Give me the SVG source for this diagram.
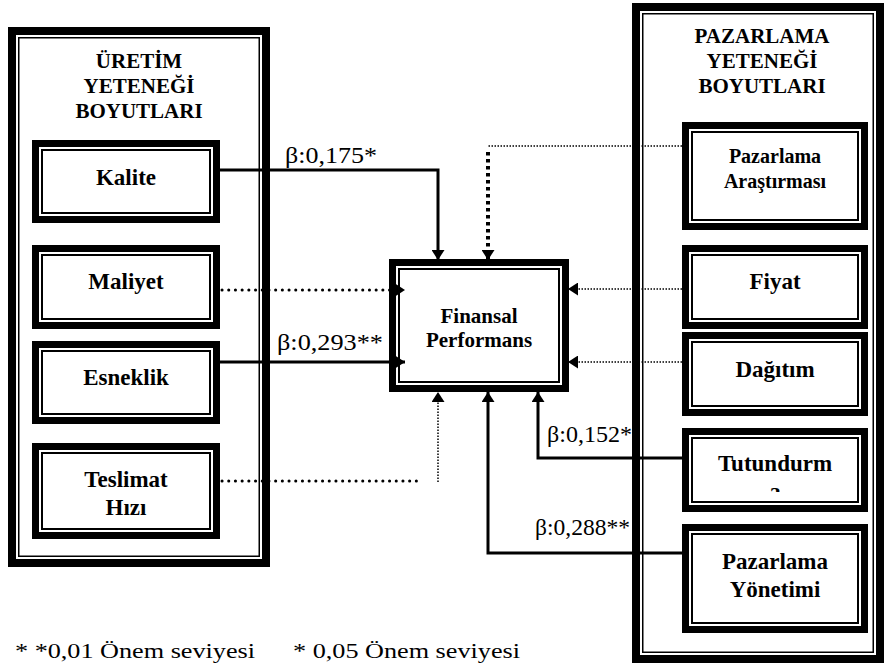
<svg xmlns="http://www.w3.org/2000/svg" width="884" height="664" viewBox="0 0 884 664">
<style>
.bg{fill:#fff}
.thickG{fill:#fff;stroke:#000;stroke-width:8}
.thick{fill:#fff;stroke:#000;stroke-width:7}
.thin{fill:none;stroke:#000;stroke-width:2}
.thinG{fill:none;stroke:#000;stroke-width:1.5}
.hd{font-family:"Liberation Serif","Times New Roman",serif;font-weight:bold;font-size:21px;text-anchor:middle;fill:#000}
.lb{font-family:"Liberation Serif","Times New Roman",serif;font-weight:bold;font-size:23px;text-anchor:middle;fill:#000}
.lbs{font-family:"Liberation Serif","Times New Roman",serif;font-weight:bold;font-size:20px;text-anchor:middle;fill:#000}
.beta{font-family:"Liberation Serif","Times New Roman",serif;font-size:23px;fill:#000}
.foot{font-family:"Liberation Serif","Times New Roman",serif;font-size:21px;fill:#000}
.solid{fill:none;stroke:#000;stroke-width:3}
.dotM{fill:none;stroke:#000;stroke-width:3;stroke-linecap:round;stroke-dasharray:0.1 6.6}
.dotT{fill:none;stroke:#000;stroke-width:1.5;stroke-dasharray:1.5 1.5}
.dotK{fill:none;stroke:#000;stroke-width:4;stroke-dasharray:3.5 3.5}
</style>
<defs>
<marker id="ah" markerUnits="userSpaceOnUse" markerWidth="10" markerHeight="13" refX="10" refY="6.5" orient="auto">
<path d="M0,0 L10,6.5 L0,13 Z" fill="#000"/>
</marker>
<clipPath id="clipT"><rect x="692" y="438" width="166" height="54"/></clipPath>
</defs>
<rect class="bg" x="0" y="0" width="884" height="664"/>

<g id="uretim-group">
<rect class="thickG" x="12" y="31" width="254" height="532"/>
<rect class="thinG" x="18.75" y="37.75" width="240.5" height="518.5"/>
<text class="hd" x="139" y="68">ÜRETİM</text>
<text class="hd" x="139" y="93">YETENEĞİ</text>
<text class="hd" x="139" y="118">BOYUTLARI</text>
</g>

<g id="pazarlama-group">
<rect class="thickG" x="636" y="7" width="244" height="652"/>
<rect class="thinG" x="642.75" y="13.75" width="230.5" height="638.5"/>
<text class="hd" x="762" y="43">PAZARLAMA</text>
<text class="hd" x="762" y="68">YETENEĞİ</text>
<text class="hd" x="762" y="93">BOYUTLARI</text>
</g>

<g id="kalite">
<rect class="thick" x="35.5" y="143.5" width="181" height="76"/>
<rect class="thin" x="42" y="150" width="168" height="63"/>
<text class="lb" x="126" y="185">Kalite</text>
</g>
<g id="maliyet">
<rect class="thick" x="35.5" y="248.5" width="181" height="77"/>
<rect class="thin" x="42" y="255" width="168" height="64"/>
<text class="lb" x="126" y="289">Maliyet</text>
</g>
<g id="esneklik">
<rect class="thick" x="35.5" y="344.5" width="181" height="76"/>
<rect class="thin" x="42" y="351" width="168" height="63"/>
<text class="lb" x="126" y="385">Esneklik</text>
</g>
<g id="teslimat">
<rect class="thick" x="35.5" y="446.5" width="181" height="89"/>
<rect class="thin" x="42" y="453" width="168" height="76"/>
<text class="lb" x="126" y="487">Teslimat</text>
<text class="lb" x="126" y="515">Hızı</text>
</g>

<g id="pazarlama-arastirmasi">
<rect class="thick" x="685.5" y="125.5" width="179" height="101"/>
<rect class="thin" x="692" y="132" width="166" height="88"/>
<text class="lbs" x="775" y="163">Pazarlama</text>
<text class="lbs" x="775" y="188">Araştırması</text>
</g>
<g id="fiyat">
<rect class="thick" x="685.5" y="248.5" width="179" height="77"/>
<rect class="thin" x="692" y="255" width="166" height="64"/>
<text class="lb" x="775" y="289">Fiyat</text>
</g>
<g id="dagitim">
<rect class="thick" x="685.5" y="335.5" width="179" height="77"/>
<rect class="thin" x="692" y="342" width="166" height="64"/>
<text class="lb" x="775" y="377">Dağıtım</text>
</g>
<g id="tutundurma">
<rect class="thick" x="685.5" y="431.5" width="179" height="77"/>
<rect class="thin" x="692" y="438" width="166" height="64"/>
<text class="lb" x="775" y="471">Tutundurm</text>
<text class="lb" x="775" y="499" clip-path="url(#clipT)">a</text>
</g>
<g id="pazarlama-yonetimi">
<rect class="thick" x="685.5" y="527.5" width="179" height="102"/>
<rect class="thin" x="692" y="534" width="166" height="89"/>
<text class="lb" x="775" y="569">Pazarlama</text>
<text class="lb" x="775" y="597">Yönetimi</text>
</g>

<g id="finansal-performans">
<rect class="thick" x="392.5" y="262.5" width="173" height="126"/>
<rect class="thin" x="399" y="269" width="160" height="113"/>
<text class="hd" x="479" y="323">Finansal</text>
<text class="hd" x="479" y="347">Performans</text>
</g>

<g id="connectors">
<path class="solid" d="M220,170 H438 V260" marker-end="url(#ah)"/>
<path class="dotT" d="M682,146 H488"/>
<path class="dotK" d="M488,152 V260" marker-end="url(#ah)"/>
<path class="dotM" d="M222,290 H398"/>
<path d="M398,290 H405" fill="none" stroke="none" marker-end="url(#ah)"/>
<path class="solid" d="M220,362 H405" marker-end="url(#ah)"/>
<path class="dotM" d="M222,481 H423"/>
<path class="dotT" d="M438,482 V392" marker-end="url(#ah)"/>
<path class="dotT" d="M682,289 H568" marker-end="url(#ah)"/>
<path class="dotT" d="M682,362 H568" marker-end="url(#ah)"/>
<path class="solid" d="M682,458 H538 V392" marker-end="url(#ah)"/>
<path class="solid" d="M682,553 H488 V392" marker-end="url(#ah)"/>
</g>

<g id="labels">
<text class="beta" x="285" y="163" textLength="92" lengthAdjust="spacingAndGlyphs">β:0,175*</text>
<text class="beta" x="277" y="350" textLength="106" lengthAdjust="spacingAndGlyphs">β:0,293**</text>
<text class="beta" x="547" y="442" textLength="85" lengthAdjust="spacingAndGlyphs">β:0,152*</text>
<text class="beta" x="535" y="535" textLength="95" lengthAdjust="spacingAndGlyphs">β:0,288**</text>
<text class="foot" x="15" y="658" textLength="240" lengthAdjust="spacingAndGlyphs">* *0,01 Önem seviyesi</text>
<text class="foot" x="293" y="658" textLength="227" lengthAdjust="spacingAndGlyphs">* 0,05 Önem seviyesi</text>
</g>
</svg>
